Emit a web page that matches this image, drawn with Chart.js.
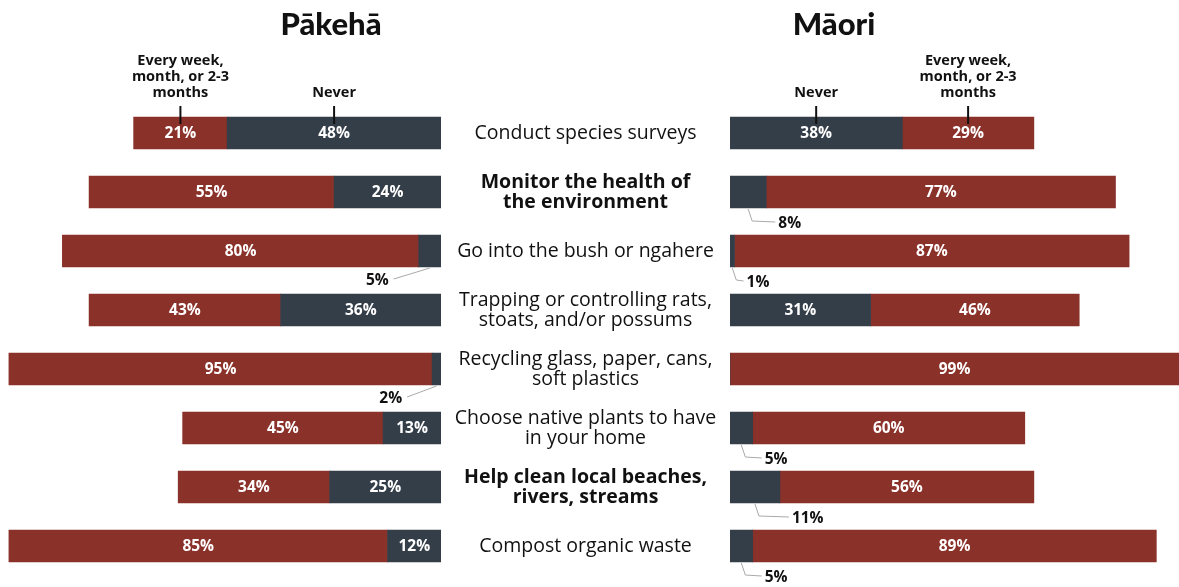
<!DOCTYPE html>
<html>
<head>
<meta charset="utf-8">
<script src="https://cdn.jsdelivr.net/npm/chart.js"></script>
<style>
  html, body { margin: 0; padding: 0; background: #fff; }
  #wrap { position: relative; width: 1179px; height: 587px; }
  #wrap canvas { position: absolute; left: 0; top: 0; }
</style>
</head>
<body>
<div id="wrap">
  <canvas id="left-chart" width="1179" height="587"></canvas>
  <canvas id="right-chart" width="1179" height="587"></canvas>
</div>
<script>
const activities = [
    ["Conduct species surveys"],
    ["Monitor the health of", "the environment"],
    ["Go into the bush or ngahere"],
    ["Trapping or controlling rats,", "stoats, and/or possums"],
    ["Recycling glass, paper, cans,", "soft plastics"],
    ["Choose native plants to have", "in your home"],
    ["Help clean local beaches,", "rivers, streams"],
    ["Compost organic waste"],
];
const pakehaOften = [21, 55, 80, 43, 95, 45, 34, 85];
const pakehaNever = [48, 24, 5, 36, 2, 13, 25, 12];
const maoriNever = [38, 8, 1, 31, 0, 5, 11, 5];
const maoriOften = [29, 77, 87, 46, 99, 60, 56, 89];
const neverHeader = ["Never"];
const oftenHeader = ["Every week,", "month, or 2-3", "months"];

const RED = "#8a3129";
const DARK = "#343e48";
const FONT = "'Open Sans', 'Noto Sans', sans-serif";
const LEFT_END = 441;
const RIGHT_START = 730;
const boldRows = [1, 6];

function drawBarLabels(chart, side) {
    const ctx = chart.ctx;
    chart.data.datasets.forEach((ds, di) => {
        const meta = chart.getDatasetMeta(di);
        meta.data.forEach((bar, i) => {
            const v = ds.data[i];
            if (!v) return;
            const left = Math.min(bar.x, bar.base);
            const right = Math.max(bar.x, bar.base);
            const cx = (left + right) / 2;
            const bottom = bar.y + bar.height / 2;
            ctx.save();
            ctx.font = "bold 15.5px " + FONT;
            ctx.textBaseline = "middle";
            if (v >= 12) {
                ctx.fillStyle = "#fff";
                ctx.textAlign = "center";
                ctx.fillText(v + "%", cx, bar.y + 1);
            } else {
                ctx.strokeStyle = "#a9a9a9";
                ctx.lineWidth = 1;
                ctx.fillStyle = "#111";
                ctx.beginPath();
                if (side === "left") {
                    const tx = left - 30;
                    const ty = bottom + 14;
                    ctx.moveTo(cx, bottom + 1);
                    ctx.lineTo(tx + 5, ty - 2);
                    ctx.stroke();
                    ctx.textAlign = "right";
                    ctx.fillText(v + "%", tx, ty);
                } else {
                    const tx = right + 12;
                    const ty = bottom + 16;
                    ctx.moveTo(cx, bottom + 1);
                    ctx.lineTo(cx + 4, ty - 3);
                    ctx.lineTo(tx - 3, ty - 2);
                    ctx.stroke();
                    ctx.textAlign = "left";
                    ctx.fillText(v + "%", tx, ty);
                }
            }
            ctx.restore();
        });
    });

    // headers above the first row
    chart.data.datasets.forEach((ds, di) => {
        const bar = chart.getDatasetMeta(di).data[0];
        const cx = (bar.x + bar.base) / 2;
        const top = bar.y - bar.height / 2;
        const lines = ds.header;
        ctx.save();
        ctx.fillStyle = "#111";
        ctx.font = "bold 14.5px " + FONT;
        ctx.textAlign = "center";
        ctx.textBaseline = "middle";
        lines.forEach((t, k) => {
            ctx.fillText(t, cx, top - 24 - (lines.length - 1 - k) * 16);
        });
        ctx.strokeStyle = "#111";
        ctx.lineWidth = 2;
        ctx.beginPath();
        ctx.moveTo(cx, top - 11);
        ctx.lineTo(cx, top + 7);
        ctx.stroke();
        ctx.restore();
    });
}

function drawTitle(chart, text, x) {
    const ctx = chart.ctx;
    ctx.save();
    ctx.fillStyle = "#111";
    ctx.font = "900 31px Lato, 'Open Sans', sans-serif";
    ctx.textAlign = "center";
    ctx.textBaseline = "alphabetic";
    ctx.fillText(text, x, 35);
    ctx.restore();
}

function drawCategories(chart) {
    const ctx = chart.ctx;
    const yScale = chart.scales.y;
    const x = (LEFT_END + RIGHT_START) / 2;
    ctx.save();
    ctx.fillStyle = "#111";
    ctx.textAlign = "center";
    ctx.textBaseline = "middle";
    activities.forEach((lines, i) => {
        const y = yScale.getPixelForValue(i);
        ctx.font = (boldRows.includes(i) ? "bold " : "") + "19.5px " + FONT;
        lines.forEach((t, k) => {
            ctx.fillText(t, x, y + (k - (lines.length - 1) / 2) * 20);
        });
    });
    ctx.restore();
}

function makeChart(id, side, never, often) {
    const isLeft = side === "left";
    new Chart(document.getElementById(id), {
        type: "bar",
        data: {
            labels: activities.map((a) => a.join(" ")),
            datasets: [
                {
                    label: "Never",
                    header: neverHeader,
                    backgroundColor: DARK,
                    data: never,
                },
                {
                    label: "Every week, month, or 2-3 months",
                    header: oftenHeader,
                    backgroundColor: RED,
                    data: often,
                },
            ],
        },
        options: {
            indexAxis: "y",
            responsive: false,
            animation: false,
            layout: {
                padding: isLeft
                    ? { left: 0, right: 1179 - LEFT_END, top: 103.5, bottom: 11.5 }
                    : { left: RIGHT_START, right: 0, top: 103.5, bottom: 11.5 },
            },
            datasets: { bar: { barThickness: 32, borderWidth: 0 } },
            scales: {
                x: { display: false, stacked: true, min: 0, max: 99, reverse: isLeft },
                y: { display: false, stacked: true },
            },
            plugins: {
                legend: { display: false },
                tooltip: { enabled: false },
            },
        },
        plugins: [
            {
                id: "decor-" + side,
                afterDatasetsDraw(chart) {
                    drawBarLabels(chart, side);
                    if (isLeft) {
                        drawTitle(chart, "Pākehā", 331);
                        drawCategories(chart);
                    } else {
                        drawTitle(chart, "Māori", 834);
                    }
                },
            },
        ],
    });
}

document.fonts.load("18px 'Open Sans'").then(() => document.fonts.load("900 31px Lato")).finally(() => {
    makeChart("left-chart", "left", pakehaNever, pakehaOften);
    makeChart("right-chart", "right", maoriNever, maoriOften);
});
</script>
</body>
</html>
